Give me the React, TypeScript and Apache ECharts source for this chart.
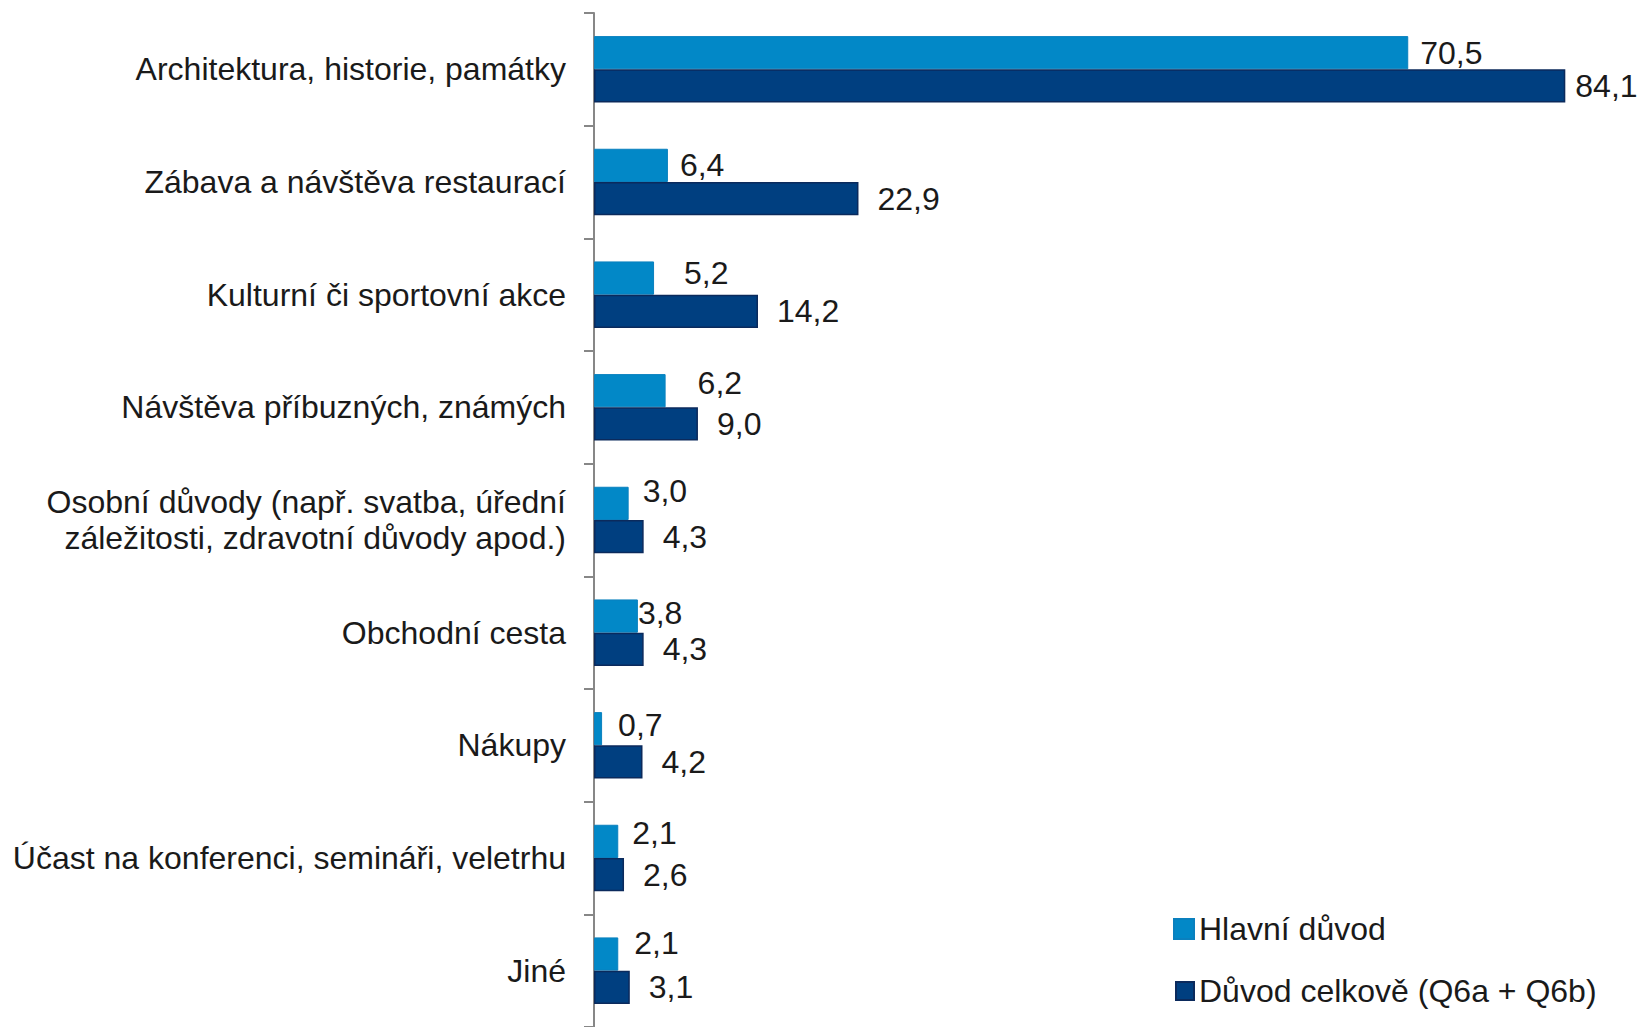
import React, { useEffect, useRef } from "react";
import * as echarts from "echarts";

const categories = [
  "Architektura, historie, památky",
  "Zábava a návštěva restaurací",
  "Kulturní či sportovní akce",
  "Návštěva příbuzných, známých",
  "Osobní důvody (např. svatba, úřední\nzáležitosti, zdravotní důvody apod.)",
  "Obchodní cesta",
  "Nákupy",
  "Účast na konferenci, semináři, veletrhu",
  "Jiné",
];
const hlavniDuvod = [70.5, 6.4, 5.2, 6.2, 3.0, 3.8, 0.7, 2.1, 2.1];
const duvodCelkove = [84.1, 22.9, 14.2, 9.0, 4.3, 4.3, 4.2, 2.6, 3.1];
const seriesNames = ["Hlavní důvod", "Důvod celkově (Q6a + Q6b)"];

// label nudges (style only), as placed in the original
const lightLabelNudge = [
  [0, 0], [0, 0], [18, -5], [20, -8], [2, -12], [-12, -3], [4, -4], [2, -8], [4, -11],
];
const darkLabelNudge = [
  [-9, 0], [0, 0], [0, 0], [0, 0], [0, 0], [0, 0], [0, 0], [0, 0], [0, 0],
];

const FONT = "Liberation Sans, Arial, sans-serif";
const TEXT = "#1a1a1a";
const fmt = (p: any) => Number(p.value).toFixed(1).replace(".", ",");

export default function App() {
  const ref = useRef<HTMLDivElement>(null);
  useEffect(() => {
    if (!ref.current) return;
    const chart = echarts.init(ref.current, undefined, { renderer: "svg" });
    const legendText = { fontSize: 32, lineHeight: 32, color: TEXT, fontFamily: FONT };
    chart.setOption({
      animation: false,
      backgroundColor: "#ffffff",
      textStyle: { fontFamily: FONT },
      grid: { left: 594, right: 0, top: 13, bottom: -3, containLabel: false },
      legend: [
        {
          orient: "vertical",
          left: 1173,
          top: 913,
          padding: 0,
          itemWidth: 20,
          itemHeight: 20,
          itemGap: 6,
          icon: "rect",
          textStyle: legendText,
          data: [seriesNames[0]],
        },
        {
          orient: "vertical",
          left: 1175,
          top: 975,
          padding: 0,
          itemWidth: 18,
          itemHeight: 18,
          icon: "rect",
          textStyle: legendText,
          data: [seriesNames[1]],
        },
      ],
      xAxis: {
        type: "value",
        min: 0,
        max: 91,
        show: false,
        splitLine: { show: false },
      },
      yAxis: {
        type: "category",
        inverse: true,
        data: categories,
        axisLine: { show: true, lineStyle: { color: "#878787", width: 2 } },
        axisTick: { show: true, length: 10, lineStyle: { color: "#878787", width: 2 } },
        axisLabel: {
          margin: 28,
          fontSize: 32,
          lineHeight: 36,
          color: TEXT,
          fontFamily: FONT,
          align: "right",
        },
      },
      series: [
        {
          name: seriesNames[0],
          type: "bar",
          data: hlavniDuvod.map((v, i) => ({
            value: v,
            label: { offset: lightLabelNudge[i] },
          })),
          barGap: "0%",
          barCategoryGap: "41%",
          itemStyle: { color: "#0288c7", borderColor: "#0a80be", borderWidth: 1 },
          label: {
            show: true,
            position: "right",
            distance: 12,
            formatter: fmt,
            fontSize: 32,
            color: TEXT,
            fontFamily: FONT,
          },
        },
        {
          name: seriesNames[1],
          type: "bar",
          data: duvodCelkove.map((v, i) => ({
            value: v,
            label: { offset: darkLabelNudge[i] },
          })),
          barGap: "0%",
          barCategoryGap: "41%",
          itemStyle: { color: "#003f80", borderColor: "#0b2a5c", borderWidth: 1.5 },
          label: {
            show: true,
            position: "right",
            distance: 19,
            formatter: fmt,
            fontSize: 32,
            color: TEXT,
            fontFamily: FONT,
          },
        },
      ],
    });
    return () => chart.dispose();
  }, []);
  return (
    <div
      ref={ref}
      style={{ position: "fixed", left: 0, top: 0, width: 1645, height: 1027 }}
    />
  );
}
